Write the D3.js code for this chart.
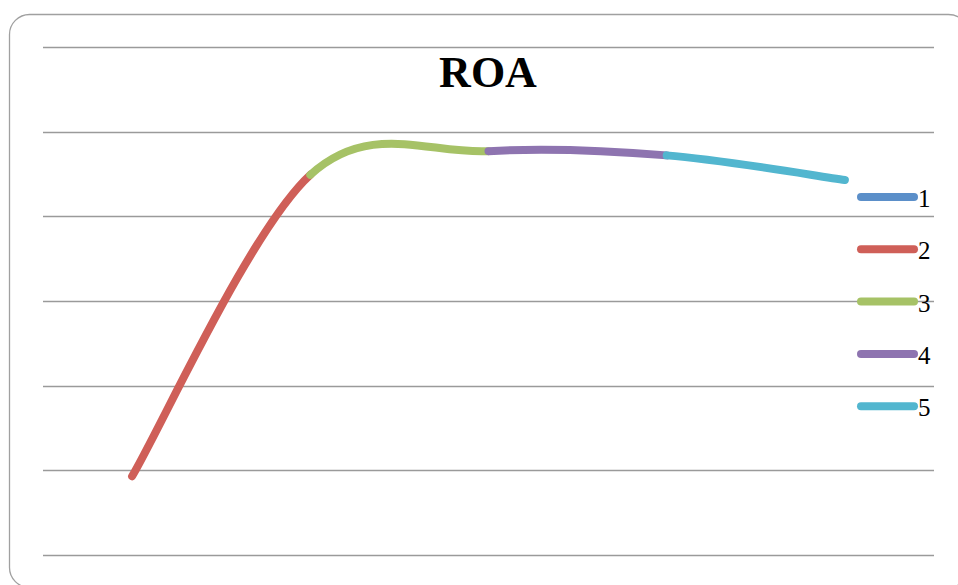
<!DOCTYPE html>
<html>
<head>
<meta charset="utf-8">
<script src="https://cdn.jsdelivr.net/npm/d3@7"></script>
<style>
  html, body { margin: 0; padding: 0; background: #fff; }
  svg { display: block; }
</style>
</head>
<body>
<div id="chart"></div>
<script>
// data
const categories = ["1", "2", "3", "4", "5"];
const roaValues = [0.93, 4.49, 4.77, 4.72, 4.43];
const yTicks = [0, 1, 2, 3, 4, 5, 6];
const pointColors = ["#5b8fc9", "#cf5f58", "#a6c266", "#8e74b0", "#52b6cf"];
const chartTitle = "ROA";

const W = 958, H = 585;
const margin = { left: 43, right: 24, top: 47, bottom: 30 };

const svg = d3.select("#chart")
    .append("svg")
    .attr("width", W)
    .attr("height", H);

// outer frame
svg.append("rect")
    .attr("x", 9.5)
    .attr("y", 14.5)
    .attr("width", 959)
    .attr("height", 573)
    .attr("rx", 20)
    .attr("fill", "#fff")
    .attr("stroke", "#a0a0a0")
    .attr("stroke-width", 1.3);

const x = d3.scaleBand()
    .domain(categories)
    .range([margin.left, W - margin.right]);

const y = d3.scaleLinear()
    .domain([0, 6])
    .range([H - margin.bottom, margin.top]);

// gridlines
svg.append("g")
    .selectAll("line")
    .data(yTicks)
    .join("line")
    .attr("x1", margin.left)
    .attr("x2", W - margin.right)
    .attr("y1", d => Math.round(y(d)) + 0.5)
    .attr("y2", d => Math.round(y(d)) + 0.5)
    .attr("stroke", "#9a9a9a")
    .attr("stroke-width", 1.5);

// title
svg.append("text")
    .attr("x", 488)
    .attr("y", 87)
    .attr("text-anchor", "middle")
    .attr("font-family", "'Liberation Serif', 'DejaVu Serif', serif")
    .attr("font-weight", "bold")
    .attr("font-size", 44)
    .attr("fill", "#000")
    .text(chartTitle);

// smoothed line, one colour per point (excel "vary colors by point")
const pts = roaValues.map((v, i) => [x(categories[i]) + x.bandwidth() / 2, y(v)]);
const k = 1 / 6;

const segments = [];
for (let i = 1; i < pts.length; i++) {
    const p0 = pts[Math.max(i - 2, 0)];
    const p1 = pts[i - 1];
    const p2 = pts[i];
    const p3 = pts[Math.min(i + 1, pts.length - 1)];
    const path = d3.path();
    path.moveTo(p1[0], p1[1]);
    path.bezierCurveTo(
        p1[0] + (p2[0] - p0[0]) * k, p1[1] + (p2[1] - p0[1]) * k,
        p2[0] - (p3[0] - p1[0]) * k, p2[1] - (p3[1] - p1[1]) * k,
        p2[0], p2[1]);
    segments.push({ d: path.toString(), color: pointColors[i] });
}

svg.append("g")
    .selectAll("path")
    .data(segments)
    .join("path")
    .attr("d", d => d.d)
    .attr("fill", "none")
    .attr("stroke", d => d.color)
    .attr("stroke-width", 8)
    .attr("stroke-linecap", "round");

// legend
const legend = svg.append("g")
    .selectAll("g")
    .data(categories)
    .join("g")
    .attr("transform", (d, i) => `translate(861, ${197 + i * 52.3})`);

legend.append("line")
    .attr("x1", 0)
    .attr("x2", 53)
    .attr("stroke", (d, i) => pointColors[i])
    .attr("stroke-width", 8)
    .attr("stroke-linecap", "round");

legend.append("text")
    .attr("x", 57)
    .attr("y", 10)
    .attr("font-family", "'Liberation Serif', 'DejaVu Serif', serif")
    .attr("font-size", 25)
    .attr("fill", "#000")
    .text(d => d);
</script>
</body>
</html>
